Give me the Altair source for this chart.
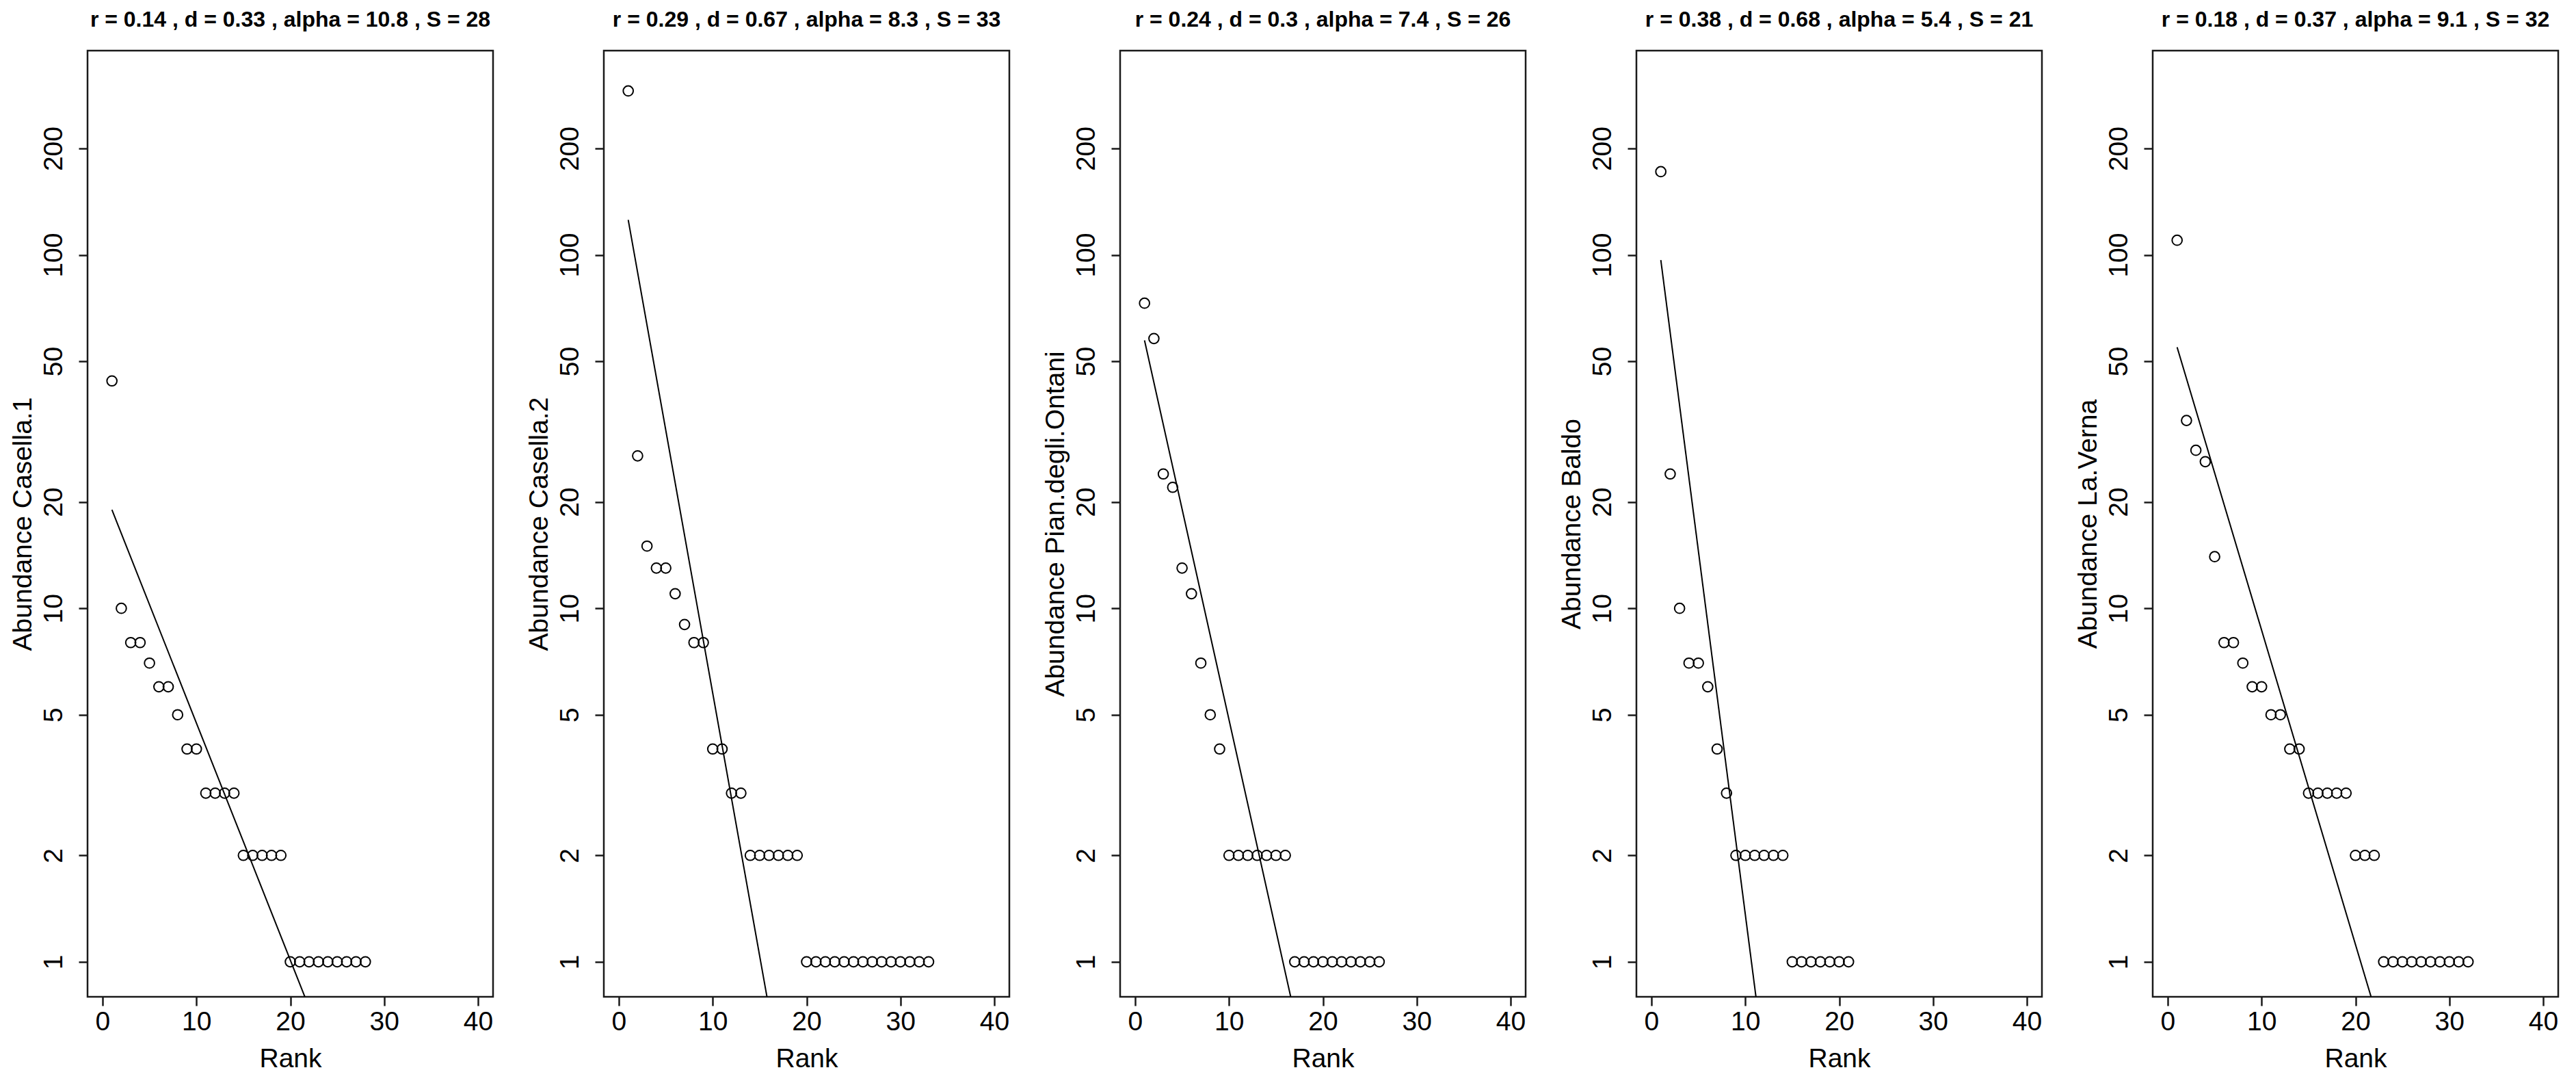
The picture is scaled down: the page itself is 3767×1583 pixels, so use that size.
import altair as alt
import pandas as pd

# ---- data ----
sites = ["Casella.1", "Casella.2", "Pian.degli.Ontani", "Baldo", "La.Verna"]
r_vals = ["0.14", "0.29", "0.24", "0.38", "0.18"]
d_vals = ["0.33", "0.67", "0.3", "0.68", "0.37"]
alpha_vals = ["10.8", "8.3", "7.4", "5.4", "9.1"]
S_vals = [28, 33, 26, 21, 32]

abund_casella1 = [44, 10, 8, 8, 7, 6, 6, 5, 4, 4, 3, 3, 3, 3, 2, 2, 2, 2, 2,
                  1, 1, 1, 1, 1, 1, 1, 1, 1]
abund_casella2 = [291, 27, 15, 13, 13, 11, 9, 8, 8, 4, 4, 3, 3, 2, 2, 2, 2, 2, 2,
                  1, 1, 1, 1, 1, 1, 1, 1, 1, 1, 1, 1, 1, 1]
abund_pian = [73, 58, 24, 22, 13, 11, 7, 5, 4, 2, 2, 2, 2, 2, 2, 2,
              1, 1, 1, 1, 1, 1, 1, 1, 1, 1]
abund_baldo = [172, 24, 10, 7, 7, 6, 4, 3, 2, 2, 2, 2, 2, 2,
               1, 1, 1, 1, 1, 1, 1]
abund_laverna = [110, 34, 28, 26, 14, 8, 8, 7, 6, 6, 5, 5, 4, 4, 3, 3, 3, 3, 3,
                 2, 2, 2, 1, 1, 1, 1, 1, 1, 1, 1, 1, 1]
abundances = [abund_casella1, abund_casella2, abund_pian, abund_baldo, abund_laverna]

# fitted geometric-series line: value at rank 1, and where it leaves the plot bottom
fit_start_value = [19.0, 125.6, 57.3, 96.7, 54.8]
fit_end_rank = [21.6, 15.8, 16.6, 11.15, 21.7]
fit_end_value = [0.79, 0.79, 0.79, 0.79, 0.79]

x_ticks = [0, 10, 20, 30, 40]
y_ticks = [1, 2, 5, 10, 20, 50, 100, 200]

FONT = "Liberation Sans"
INK = "#1a1a1a"


def panel(i):
    abund = abundances[i]
    pts = pd.DataFrame({"Rank": list(range(1, len(abund) + 1)), "Abundance": abund})
    fit = pd.DataFrame({"Rank": [1, fit_end_rank[i]],
                        "Abundance": [fit_start_value[i], fit_end_value[i]]})
    x = alt.X("Rank:Q",
              scale=alt.Scale(domain=[-1.6, 41.6], nice=False, zero=False),
              axis=alt.Axis(values=x_ticks, format="d", title="Rank",
                            labelPadding=4, titlePadding=15))
    y = alt.Y("Abundance:Q",
              scale=alt.Scale(type="log", domain=[0.796, 378.4], nice=False),
              axis=alt.Axis(values=y_ticks, format="d",
                            title="Abundance " + sites[i],
                            labelAngle=270, labelAlign="center",
                            labelBaseline="alphabetic", labelPadding=25,
                            titleBaseline="alphabetic", titlePadding=14))
    line = alt.Chart(fit).mark_line(color="black", strokeWidth=2.0, clip=True).encode(x=x, y=y)
    points = alt.Chart(pts).mark_point(shape="circle", filled=False, size=215,
                                       stroke="black", strokeWidth=2.0,
                                       opacity=1, clip=True).encode(x=x, y=y)
    title = f"r = {r_vals[i]} , d = {d_vals[i]} , alpha = {alpha_vals[i]} , S = {S_vals[i]}"
    return alt.layer(line, points).properties(
        width=593, height=1383,
        title=alt.TitleParams(title, font=FONT, fontSize=32, fontWeight="bold",
                              color="black", anchor="middle",
                              baseline="alphabetic", offset=3),
    )


chart = alt.hconcat(*[panel(i) for i in range(5)], spacing=162, bounds="flush").properties(
    padding={"left": 4, "top": 3, "right": 0, "bottom": 0},
    background="white",
).configure_view(
    stroke=INK, strokeWidth=2.5
).configure_axis(
    domain=False, grid=False,
    tickSize=13, tickWidth=2.5, tickColor=INK,
    labelFont=FONT, labelFontSize=39, labelColor="black",
    titleFont=FONT, titleFontSize=39, titleFontWeight="normal", titleColor="black",
)

chart.save("out.html", embed_options={"renderer": "svg", "actions": False})
